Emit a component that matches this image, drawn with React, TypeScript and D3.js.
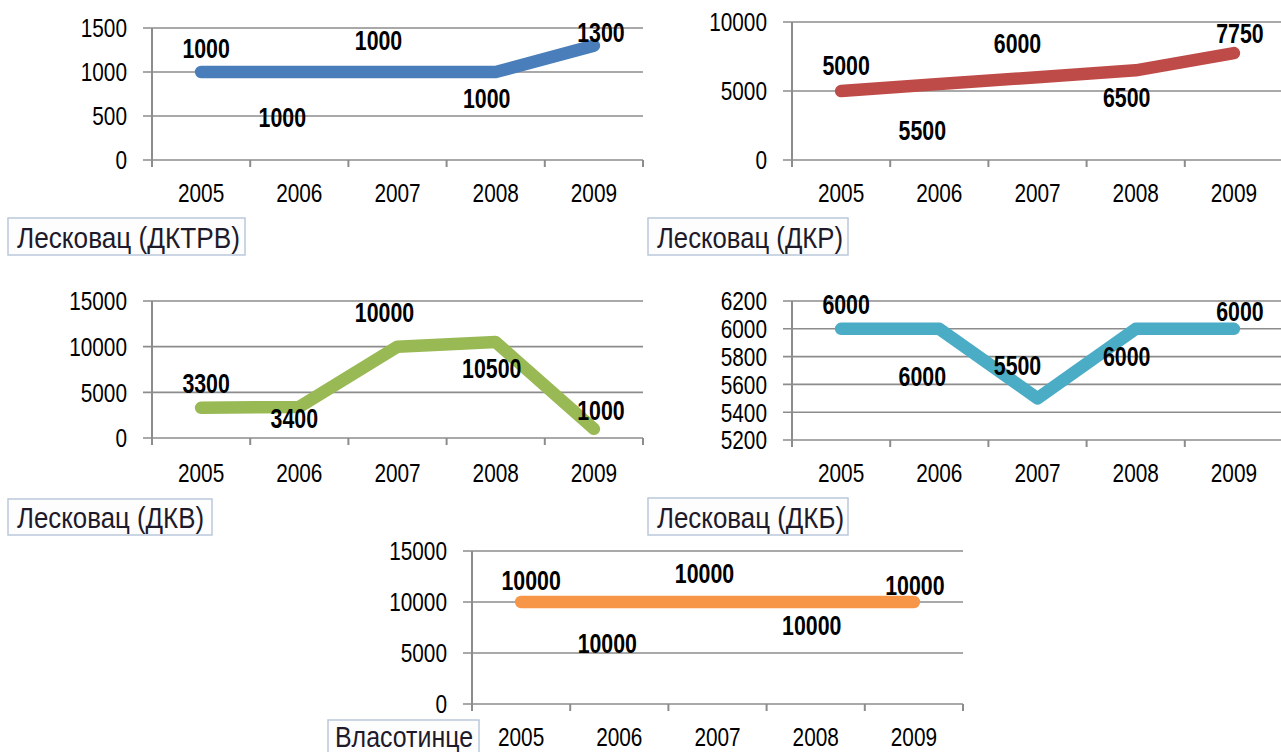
import React from "react";
import * as d3 from "d3";

const years = ["2005", "2006", "2007", "2008", "2009"];

const dktrvValues = [1000, 1000, 1000, 1000, 1300];
const dkrValues = [5000, 5500, 6000, 6500, 7750];
const dkvValues = [3300, 3400, 10000, 10500, 1000];
const dkbValues = [6000, 6000, 5500, 6000, 6000];
const vlasotinceValues = [10000, 10000, 10000, 10000, 10000];

const dktrvTicks = [0, 500, 1000, 1500];
const dkrTicks = [0, 5000, 10000];
const dkvTicks = [0, 5000, 10000, 15000];
const dkbTicks = [5200, 5400, 5600, 5800, 6000, 6200];
const vlasotinceTicks = [0, 5000, 10000, 15000];

const seriesNames = [
  "Лесковац (ДКТРВ)",
  "Лесковац (ДКР)",
  "Лесковац (ДКВ)",
  "Лесковац (ДКБ)",
  "Власотинце",
];

type Panel = {
  name: string;
  values: number[];
  ticks: number[];
  color: string;
  left: number;
  right: number;
  top: number;
  bottom: number;
  catBase: number;
  legend: { x: number; y: number; w: number; h: number; tx: number; ty: number; tw: number };
  labelDx: number[];
  labelDy: number[];
};

const panels: Panel[] = [
  {
    name: seriesNames[0], values: dktrvValues, ticks: dktrvTicks, color: "#4a7ebb",
    left: 152, right: 643, top: 28, bottom: 160, catBase: 202,
    legend: { x: 8, y: 218, w: 237, h: 37, tx: 17, ty: 248, tw: 223 },
    labelDx: [5, -17, -19, -9, 7], labelDy: [-14, 55, -22, 36, -4],
  },
  {
    name: seriesNames[1], values: dkrValues, ticks: dkrTicks, color: "#be4b48",
    left: 792, right: 1283, top: 22, bottom: 160, catBase: 202,
    legend: { x: 648, y: 218, w: 200, h: 37, tx: 657, ty: 248, tw: 186 },
    labelDx: [5, -17, -20, -9, 6], labelDy: [-16, 56, -24, 37, -10],
  },
  {
    name: seriesNames[2], values: dkvValues, ticks: dkvTicks, color: "#98b954",
    left: 152, right: 643, top: 301, bottom: 438, catBase: 482,
    legend: { x: 8, y: 499, w: 204, h: 36, tx: 17, ty: 528, tw: 187 },
    labelDx: [5, -5, -13, -4, 7], labelDy: [-15, 21, -25, 36, -9],
  },
  {
    name: seriesNames[3], values: dkbValues, ticks: dkbTicks, color: "#4bacc6",
    left: 792, right: 1283, top: 301, bottom: 440, catBase: 482,
    legend: { x: 648, y: 498, w: 200, h: 37, tx: 657, ty: 528, tw: 187 },
    labelDx: [5, -17, -20, -9, 6], labelDy: [-15, 57, -23, 37, -8],
  },
  {
    name: seriesNames[4], values: vlasotinceValues, ticks: vlasotinceTicks, color: "#f79646",
    left: 472, right: 963, top: 551, bottom: 704, catBase: 746,
    legend: { x: 328, y: 720, w: 151, h: 36, tx: 335, ty: 747, tw: 138 },
    labelDx: [10, -12, -13, -4, 1], labelDy: [-12, 51, -19, 33, -7],
  },
];

const FONT = "'Liberation Sans', Arial, sans-serif";
const GRID = "#8c8c8c";

function Txt(props: {
  x: number; y: number; size: number; sx?: number; weight?: string;
  anchor?: "start" | "middle" | "end"; fill?: string; children: React.ReactNode;
}) {
  const { x, y, size, sx = 0.8, weight = "normal", anchor = "middle", fill = "#000" } = props;
  return (
    <text
      transform={`translate(${x},${y}) scale(${sx},1)`}
      fontFamily={FONT}
      fontSize={size}
      fontWeight={weight}
      textAnchor={anchor}
      fill={fill}
    >
      {props.children}
    </text>
  );
}

function PanelChart({ p }: { p: Panel }) {
  const x = d3.scaleBand<string>().domain(years).range([p.left, p.right]).padding(0);
  const y = d3
    .scaleLinear()
    .domain([p.ticks[0], p.ticks[p.ticks.length - 1]])
    .range([p.bottom, p.top]);
  const cx = (c: string) => (x(c) as number) + x.bandwidth() / 2;
  const line = d3
    .line<number>()
    .x((_, i) => cx(years[i]))
    .y((d) => y(d));
  const boundaries = [...years.map((c) => x(c) as number), p.right];

  return (
    <g>
      {p.ticks.map((t) => (
        <g key={"g" + t}>
          <line x1={p.left - 9} x2={p.right} y1={y(t)} y2={y(t)} stroke={GRID} strokeWidth={1.6} />
          <Txt x={p.left - 25} y={y(t) + 9.3} size={26} anchor="end">
            {t}
          </Txt>
        </g>
      ))}
      <line x1={p.left} x2={p.left} y1={p.top} y2={p.bottom} stroke={GRID} strokeWidth={2} />
      {boundaries.map((b, i) => (
        <line key={"t" + i} x1={b} x2={b} y1={p.bottom} y2={p.bottom + 7} stroke={GRID} strokeWidth={2} />
      ))}
      {years.map((c) => (
        <Txt key={"c" + c} x={cx(c)} y={p.catBase} size={26}>
          {c}
        </Txt>
      ))}
      <path
        d={line(p.values) || ""}
        fill="none"
        stroke={p.color}
        strokeWidth={12.5}
        strokeLinecap="round"
        strokeLinejoin="round"
      />
      {p.values.map((v, i) => (
        <Txt
          key={"l" + i}
          x={cx(years[i]) + p.labelDx[i]}
          y={y(v) + p.labelDy[i]}
          size={27}
          sx={0.79}
          weight="bold"
        >
          {v}
        </Txt>
      ))}
      <rect
        x={p.legend.x}
        y={p.legend.y}
        width={p.legend.w}
        height={p.legend.h}
        fill="#fdfdfe"
        stroke="#bac8dc"
        strokeWidth={1.5}
      />
      <text
        x={p.legend.tx}
        y={p.legend.ty}
        fontFamily={FONT}
        fontSize={29}
        fill="#1e1a2a"
        textLength={p.legend.tw}
        lengthAdjust="spacingAndGlyphs"
      >
        {p.name}
      </text>
    </g>
  );
}

export default function App() {
  return (
    <svg
      width={1281}
      height={752}
      viewBox="0 0 1281 752"
      style={{ position: "absolute", left: 0, top: 0, background: "#fff" }}
    >
      <rect x={0} y={0} width={1281} height={752} fill="#fff" />
      {panels.map((p) => (
        <PanelChart key={p.name} p={p} />
      ))}
    </svg>
  );
}
